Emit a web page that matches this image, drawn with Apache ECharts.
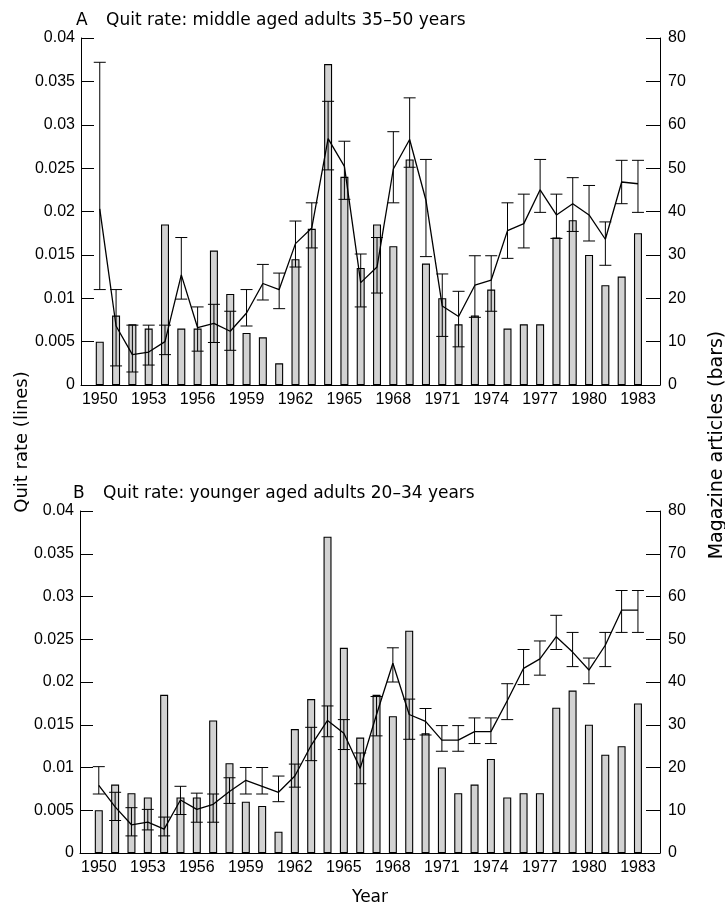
<!DOCTYPE html>
<html>
<head>
<meta charset="utf-8">
<script src="https://cdn.jsdelivr.net/npm/echarts@6/dist/echarts.min.js"></script>
<style>html,body{margin:0;padding:0;background:#fff}#c{width:725px;height:907px}</style>
</head>
<body>
<div id="c"></div>
<script>
const years = [1950,1951,1952,1953,1954,1955,1956,1957,1958,1959,1960,1961,1962,1963,1964,1965,1966,1967,1968,1969,1970,1971,1972,1973,1974,1975,1976,1977,1978,1979,1980,1981,1982,1983];
const tickYears = [1950,1953,1956,1959,1962,1965,1968,1971,1974,1977,1980,1983];
const articles = [10,16,14,13,37,13,13,31,21,12,11,5,29,36,74,48,27,37,32,52,28,20,14,16,22,13,14,14,34,38,30,23,25,35];

const quitA = [0.0203,0.0068,0.0035,0.0038,0.0050,0.0127,0.0066,0.0071,0.0062,0.0083,0.0117,0.0110,0.0163,0.0181,0.0284,0.0252,0.0118,0.0136,0.0249,0.0283,0.0213,0.0091,0.0079,0.0115,0.0121,0.0178,0.0186,0.0225,0.0196,0.0209,0.0196,0.0168,0.0234,0.0232];
const lowA = [0.0110,0.0022,0.0015,0.0023,0.0035,0.0099,0.0039,0.0049,0.0040,0.0068,0.0098,0.0088,0.0136,0.0158,0.0248,0.0214,0.0090,0.0106,0.0210,0.0251,0.0148,0.0056,0.0044,0.0078,0.0085,0.0146,0.0158,0.0199,0.0169,0.0177,0.0166,0.0138,0.0209,0.0199];
const highA = [0.0372,0.0110,0.0069,0.0069,0.0069,0.0170,0.0090,0.0093,0.0085,0.0110,0.0139,0.0129,0.0189,0.0210,0.0327,0.0281,0.0151,0.0170,0.0292,0.0331,0.0260,0.0128,0.0108,0.0149,0.0149,0.0210,0.0220,0.0260,0.0220,0.0239,0.0230,0.0188,0.0259,0.0259];

const quitB = [0.0079,0.0054,0.0033,0.0036,0.0028,0.0062,0.0051,0.0057,0.0072,0.0085,0.0078,0.0071,0.0090,0.0126,0.0155,0.0140,0.0099,0.0162,0.0222,0.0162,0.0154,0.0132,0.0132,0.0142,0.0142,0.0178,0.0216,0.0227,0.0253,0.0235,0.0214,0.0243,0.0284,0.0284];
const lowB = [0.0069,0.0038,0.0020,0.0027,0.0020,0.0045,0.0036,0.0036,0.0058,0.0069,0.0069,0.0060,0.0077,0.0108,0.0136,0.0121,0.0081,0.0137,0.0200,0.0133,0.0138,0.0119,0.0119,0.0128,0.0128,0.0156,0.0197,0.0208,0.0238,0.0218,0.0198,0.0218,0.0258,0.0258];
const highB = [0.0101,0.0071,0.0053,0.0051,0.0042,0.0078,0.0070,0.0069,0.0088,0.0100,0.0100,0.0090,0.0104,0.0147,0.0172,0.0156,0.0117,0.0183,0.0240,0.0180,0.0169,0.0149,0.0149,0.0158,0.0158,0.0198,0.0238,0.0248,0.0278,0.0258,0.0228,0.0258,0.0307,0.0307];

const letterA = 'A';
const titleA = 'Quit rate: middle aged adults 35–50 years';
const letterB = 'B';
const titleB = 'Quit rate: younger aged adults 20–34 years';
const leftName = 'Quit rate (lines)';
const rightName = 'Magazine articles (bars)';
const xName = 'Year';

const FONT = 'Liberation Sans, Arial, Helvetica, sans-serif';
const TFONT = 'DejaVu Sans, Liberation Sans, sans-serif';
const pairs = (vals) => years.map((y, i) => [y, vals[i]]);
const errs = (lo, hi) => years.map((y, i) => [y, lo[i], hi[i]]);

function errItem(params, api) {
  const x = api.value(0);
  const pHi = api.coord([x, api.value(2)]);
  const pLo = api.coord([x, api.value(1)]);
  const w = 6;
  const st = { stroke: '#000', lineWidth: 1 };
  return { type: 'group', children: [
    { type: 'line', shape: { x1: pHi[0], y1: pHi[1], x2: pLo[0], y2: pLo[1] }, style: st },
    { type: 'line', shape: { x1: pHi[0] - w, y1: pHi[1], x2: pHi[0] + w, y2: pHi[1] }, style: st },
    { type: 'line', shape: { x1: pLo[0] - w, y1: pLo[1], x2: pLo[0] + w, y2: pLo[1] }, style: st }
  ]};
}

function xAxis(gi, withName) {
  const a = {
    type: 'value', gridIndex: gi, min: 1948.85, max: 1984.35,
    splitLine: { show: false },
    axisLine: { lineStyle: { color: '#000', width: 1 } },
    axisTick: { show: true, inside: true, length: 8, customValues: tickYears, lineStyle: { color: '#000' } },
    axisLabel: { customValues: tickYears, color: '#000', fontFamily: FONT, fontSize: 16, margin: 7, formatter: v => String(v) }
  };
  if (withName) {
    a.name = xName; a.nameLocation = 'middle'; a.nameGap = 36;
    a.nameTextStyle = { color: '#000', fontFamily: TFONT, fontSize: 17 };
  }
  return a;
}
function yLeft(gi) {
  return {
    type: 'value', gridIndex: gi, min: 0, max: 0.04, interval: 0.005, position: 'left',
    splitLine: { show: false },
    axisLine: { show: true, lineStyle: { color: '#000', width: 1 } },
    axisTick: { show: true, inside: true, length: 13, lineStyle: { color: '#000' } },
    axisLabel: { color: '#000', fontFamily: FONT, fontSize: 16, margin: 6, formatter: v => String(+v.toFixed(3)) }
  };
}
function yRight(gi) {
  return {
    type: 'value', gridIndex: gi, min: 0, max: 80, interval: 10, position: 'right',
    splitLine: { show: false },
    axisLine: { show: true, lineStyle: { color: '#000', width: 1 } },
    axisTick: { show: true, inside: true, length: 14, lineStyle: { color: '#000' } },
    axisLabel: { color: '#000', fontFamily: FONT, fontSize: 16, margin: 8 }
  };
}

function panelSeries(gi, quit, lo, hi) {
  return [
    { type: 'bar', xAxisIndex: gi, yAxisIndex: gi * 2 + 1, data: pairs(articles), barWidth: 8,
      itemStyle: { color: '#d2d2d2', borderColor: '#000', borderWidth: 1.1 }, silent: true, z: 1 },
    { type: 'custom', xAxisIndex: gi, yAxisIndex: gi * 2, data: errs(lo, hi), renderItem: errItem, silent: true, z: 3 },
    { type: 'line', xAxisIndex: gi, yAxisIndex: gi * 2, data: pairs(quit), showSymbol: false, symbol: 'none',
      lineStyle: { color: '#000', width: 1.3 }, silent: true, z: 4 }
  ];
}

const tStyle = { color: '#000', fontFamily: TFONT, fontSize: 17, fontWeight: 'normal' };
const chart = echarts.init(document.getElementById('c'), null, { renderer: 'canvas' });
chart.setOption({
  animation: false,
  backgroundColor: '#fff',
  textStyle: { fontFamily: FONT },
  title: [
    { text: letterA, left: 71, top: 7, textStyle: tStyle },
    { text: titleA, left: 101, top: 7, textStyle: tStyle },
    { text: letterB, left: 68, top: 480, textStyle: tStyle },
    { text: titleB, left: 98, top: 480, textStyle: tStyle }
  ],
  grid: [
    { left: 81, right: 65, top: 38, height: 347 },
    { left: 80, right: 65, top: 511, height: 346 }
  ],
  xAxis: [xAxis(0, false), xAxis(1, true)],
  yAxis: [yLeft(0), yRight(0), yLeft(1), yRight(1)],
  series: [...panelSeries(0, quitA, lowA, highA), ...panelSeries(1, quitB, lowB, highB)],
  graphic: [
    { type: 'text', x: 22, y: 442, rotation: Math.PI / 2,
      style: { text: leftName, fill: '#000', font: '18px ' + TFONT, align: 'center', verticalAlign: 'middle' } },
    { type: 'text', x: 717, y: 445, rotation: Math.PI / 2,
      style: { text: rightName, fill: '#000', font: '19px ' + TFONT, align: 'center', verticalAlign: 'middle' } }
  ]
});
</script>
</body>
</html>
